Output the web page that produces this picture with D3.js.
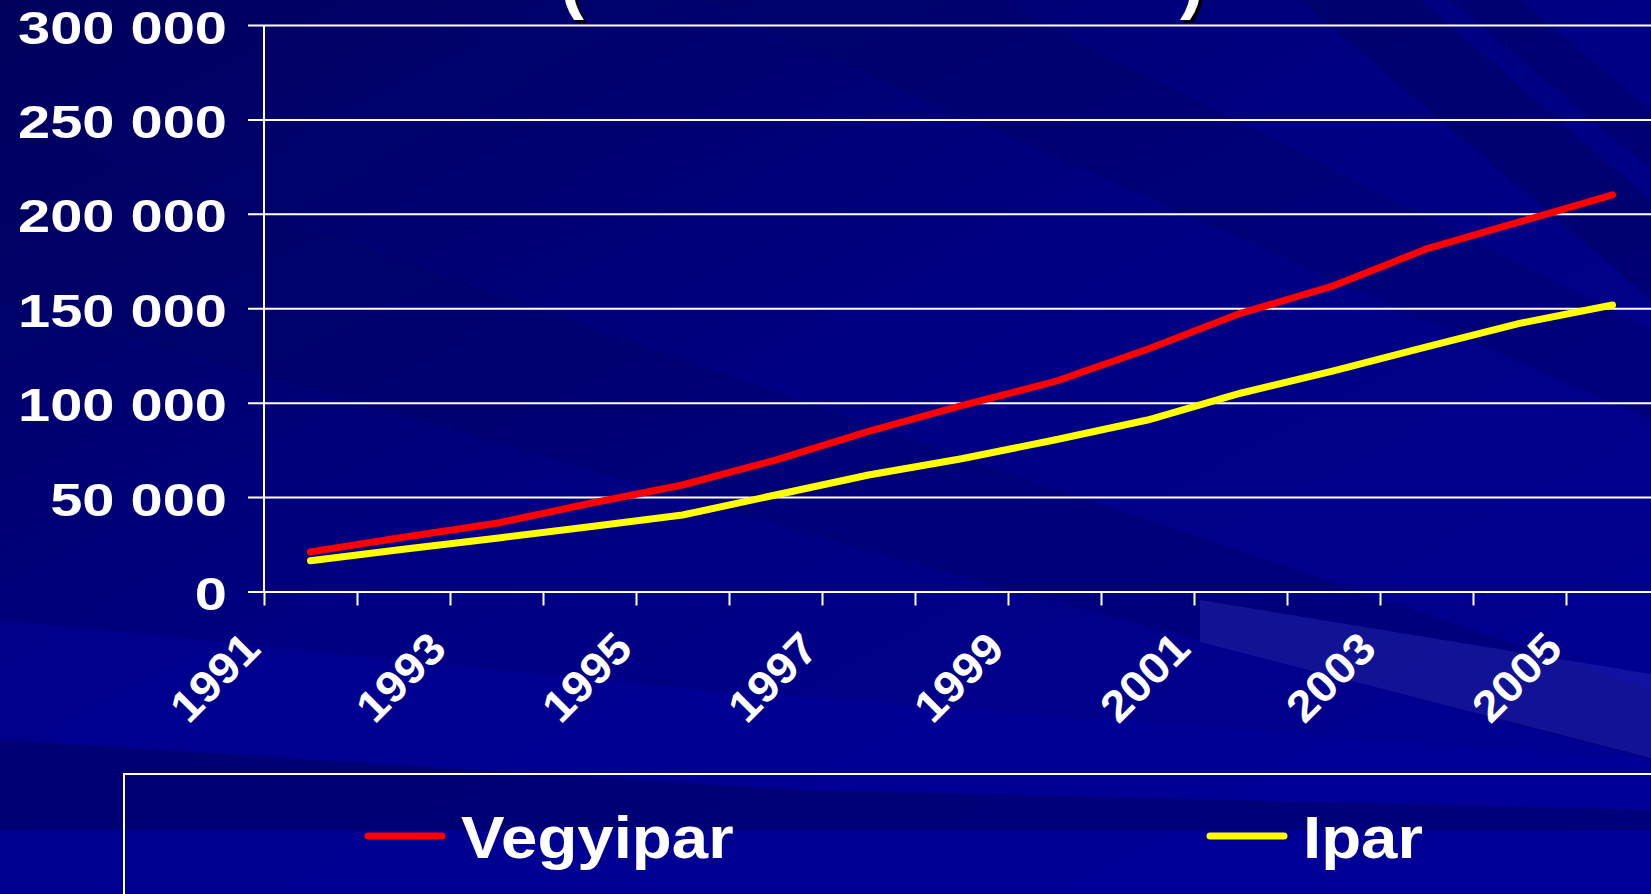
<!DOCTYPE html>
<html>
<head>
<meta charset="utf-8">
<script src="https://cdnjs.cloudflare.com/ajax/libs/d3/7.8.5/d3.min.js"></script>
<style>
  body { margin: 0; background: #000080; overflow: hidden; }
  text { font-family: "Liberation Sans", Arial, sans-serif; font-weight: bold; fill: #fff; }
</style>
</head>
<body>
<div id="chart"></div>
<script>
// categories and series
var years = ["1991", "1992", "1993", "1994", "1995", "1996", "1997", "1998",
             "1999", "2000", "2001", "2002", "2003", "2004", "2005"];
var yearLabels = ["1991", "1993", "1995", "1997", "1999", "2001", "2003", "2005"];
var vegyipar = [21000, 28700, 36100, 46600, 56400, 69600, 84800, 98400,
                111100, 128300, 147300, 161900, 181400, 195700, 210000];
var ipar = [16300, 22350, 28200, 34300, 40500, 51100, 61700, 70300,
            80200, 90800, 105000, 116800, 129600, 142000, 151700];
var yTicks = [0, 50000, 100000, 150000, 200000, 250000, 300000];
var seriesNames = ["Vegyipar", "Ipar"];
var seriesColors = ["#ff0000", "#ffff00"];

var width = 1651, height = 894;
var margin = {top: 25, left: 264, bottom: 894 - 591.5};

var svg = d3.select("#chart")
            .append("svg")
            .attr("width", width)
            .attr("height", height);

// background: navy with diagonal streaks
var defs = svg.append("defs");
var bg = defs.append("linearGradient")
             .attr("id", "bg")
             .attr("x1", 0).attr("y1", 0).attr("x2", 1).attr("y2", 1);
bg.append("stop").attr("offset", "0%").attr("stop-color", "#00005c");
bg.append("stop").attr("offset", "45%").attr("stop-color", "#000082");
bg.append("stop").attr("offset", "100%").attr("stop-color", "#000094");

svg.append("rect")
   .attr("width", width).attr("height", height)
   .attr("fill", "url(#bg)");

var streaks = svg.append("g");
streaks.append("polygon")
       .attr("points", "0,120 600,330 1000,470 1651,690 1651,760 900,560 0,300")
       .attr("fill", "#000060").attr("opacity", 0.35);
streaks.append("polygon")
       .attr("points", "700,0 1000,0 1651,330 1651,420")
       .attr("fill", "#000060").attr("opacity", 0.35);
streaks.append("polygon")
       .attr("points", "1300,0 1420,0 1651,200 1651,300")
       .attr("fill", "#000055").attr("opacity", 0.4);
streaks.append("polygon")
       .attr("points", "1450,0 1520,0 1651,110 1651,170")
       .attr("fill", "#000055").attr("opacity", 0.35);
streaks.append("polygon")
       .attr("points", "0,620 700,690 1651,760 1651,894 0,894")
       .attr("fill", "#0000a0").attr("opacity", 0.45);
streaks.append("polygon")
       .attr("points", "0,740 800,790 1651,810 1651,830 0,830")
       .attr("fill", "#000055").attr("opacity", 0.45);
streaks.append("polygon")
       .attr("points", "1200,600 1651,674 1651,758 1200,642")
       .attr("fill", "#3a3acc").attr("opacity", 0.3);

// scales
var x = d3.scaleBand()
          .domain(years)
          .range([margin.left, margin.left + 93 * years.length]);
var y = d3.scaleLinear()
          .domain([0, 300000])
          .range([height - margin.bottom, margin.top]);
var tickPos = d3.scaleLinear()
                .domain([0, years.length])
                .range(x.range());

// y gridlines + labels
var yAxis = svg.append("g")
               .attr("transform", "translate(" + margin.left + ",0)")
               .call(d3.axisLeft(y)
                       .tickValues(yTicks)
                       .tickSizeOuter(0)
                       .tickFormat(function(v) { return d3.format(",")(v).replace(/,/g, " "); }));
yAxis.select(".domain").remove();
yAxis.selectAll(".tick line")
     .attr("x1", -16)
     .attr("x2", width - margin.left)
     .attr("stroke", "#fff")
     .attr("stroke-width", 2);
yAxis.selectAll(".tick text")
     .attr("x", 0).attr("dy", null)
     .attr("transform", "translate(-37,18) scale(1.23,1)")
     .attr("text-anchor", "end")
     .attr("font-size", 47)
     .attr("fill", "#fff");

// y axis line
svg.append("line")
   .attr("x1", margin.left).attr("x2", margin.left)
   .attr("y1", y(300000)).attr("y2", y(0))
   .attr("stroke", "#fff").attr("stroke-width", 2);

// x tick marks between categories
var xAxis = svg.append("g")
               .attr("transform", "translate(0," + y(0) + ")")
               .call(d3.axisBottom(tickPos)
                       .tickValues(d3.range(years.length + 1))
                       .tickSize(14)
                       .tickSizeOuter(0)
                       .tickFormat(""));
xAxis.select(".domain").remove();
xAxis.selectAll(".tick line").attr("stroke", "#fff").attr("stroke-width", 2);

// rotated year labels
svg.append("g")
   .selectAll("text")
   .data(yearLabels)
   .enter().append("text")
   .attr("text-anchor", "end")
   .attr("font-size", 44)
   .attr("transform", function(d) {
       return "translate(" + (x(d) + x.bandwidth() / 2 - 48) + ",651) rotate(-45) scale(1.07,1)";
   })
   .text(function(d) { return d; });

// lines
var line = d3.line()
             .x(function(d, i) { return x(years[i]) + x.bandwidth() / 2; })
             .y(function(d) { return y(d); });

[vegyipar, ipar].forEach(function(series, i) {
    svg.append("path")
       .datum(series)
       .attr("d", line)
       .attr("fill", "none")
       .attr("stroke", seriesColors[i])
       .attr("stroke-width", 7)
       .attr("stroke-linecap", "round")
       .attr("stroke-linejoin", "round");
});

// title, mostly cut off at the top edge in the original too
var title = svg.append("g").attr("font-size", 72);
[["(", 560], [")", 1180]].forEach(function(p) {
    title.append("text").attr("x", p[1] + 3).attr("y", 8).style("fill", "#000").text(p[0]);
    title.append("text").attr("x", p[1]).attr("y", 5).text(p[0]);
});

// legend
var legend = svg.append("g");
legend.append("rect")
      .attr("x", 124).attr("y", 774)
      .attr("width", width).attr("height", 300)
      .attr("fill", "none")
      .attr("stroke", "#fff")
      .attr("stroke-width", 2);

var legendX = [368, 1210];
seriesNames.forEach(function(name, i) {
    legend.append("line")
          .attr("x1", legendX[i]).attr("x2", legendX[i] + 74)
          .attr("y1", 836).attr("y2", 836)
          .attr("stroke", seriesColors[i])
          .attr("stroke-width", 7)
          .attr("stroke-linecap", "round");
    legend.append("text")
          .attr("font-size", 60)
          .attr("transform", "translate(" + (legendX[i] + 93) + ",858) scale(1.09,1)")
          .text(name);
});
</script>
</body>
</html>
